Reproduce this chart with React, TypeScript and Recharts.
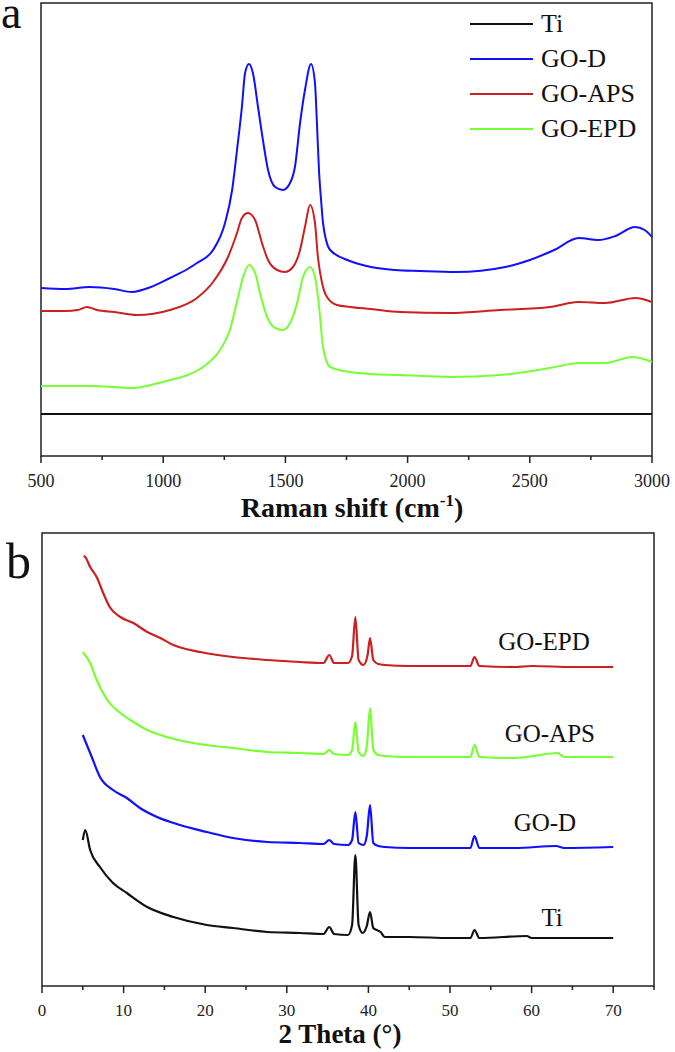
import React from 'react';
import { LineChart, Line, XAxis, YAxis, Label, Legend, ReferenceDot, ReferenceArea } from 'recharts';

const SERIF = '"Liberation Serif", "Times New Roman", Times, serif';
const INK = '#222';

// ---- panel a: Raman spectra (intensity in arbitrary units, stacked offsets) ----
const ramanTicks = [500, 750, 1000, 1250, 1500, 1750, 2000, 2250, 2500, 2750, 3000];
const ramanLabelled = [500, 1000, 1500, 2000, 2500, 3000];

const tiRamanShift = [500, 3000];
const tiRaman = [42, 42];

const godRamanShift = [500, 600, 700, 800, 872, 950, 1028, 1100, 1138, 1204, 1253, 1282, 1302, 1322, 1335, 1351, 1367, 1388, 1408, 1429, 1458, 1490, 1519, 1539, 1560, 1580, 1605, 1621, 1629, 1638, 1646, 1654, 1683, 1764, 1850, 1950, 2050, 2200, 2400, 2500, 2600, 2700, 2780, 2850, 2930, 2970, 3000];
const godRaman = [168, 167, 169, 167, 164, 169, 178, 187, 193, 206, 233, 266, 306, 349, 383, 392, 383, 349, 316, 286, 269, 266, 273, 289, 333, 366, 392, 373, 333, 283, 256, 233, 206, 195, 189, 186, 185, 184, 189, 196, 206, 218, 216, 220, 229, 226, 219];

const goApsRamanShift = [500, 600, 650, 688, 730, 800, 892, 1028, 1138, 1204, 1265, 1302, 1322, 1347, 1376, 1404, 1429, 1466, 1498, 1531, 1560, 1580, 1601, 1621, 1633, 1650, 1670, 1711, 1764, 1850, 1969, 2173, 2378, 2582, 2698, 2808, 2933, 3000];
const goApsRaman = [145, 145, 146, 149, 146, 144, 141, 146, 158, 174, 199, 223, 238, 243, 236, 213, 196, 186, 184, 189, 206, 229, 251, 233, 199, 173, 159, 151, 149, 147, 144, 143, 146, 149, 154, 153, 158, 154];

const goEpdRamanShift = [500, 600, 700, 800, 872, 950, 1028, 1100, 1163, 1232, 1273, 1306, 1327, 1351, 1376, 1396, 1425, 1458, 1490, 1519, 1548, 1572, 1601, 1621, 1638, 1654, 1683, 1764, 1850, 1969, 2173, 2378, 2582, 2705, 2807, 2921, 3000];
const goEpdRaman = [70, 70, 70, 69, 68, 71, 76, 81, 89, 106, 126, 159, 179, 191, 183, 163, 139, 128, 126, 133, 153, 179, 189, 179, 149, 109, 89, 84, 82, 81, 79, 81, 88, 93, 93, 99, 94];

// ---- panel b: XRD patterns ----
const xrdTicks = [0, 5, 10, 15, 20, 25, 30, 35, 40, 45, 50, 55, 60, 65, 70, 75];
const xrdLabelled = [0, 10, 20, 30, 40, 50, 60, 70];

const tiTheta = [5.0, 5.3, 5.9, 7.1, 8.7, 10.4, 12.9, 16.1, 20.2, 23.4, 27.6, 31.6, 34.5, 35.2, 35.8, 37.5, 38.0, 38.4, 38.8, 39.3, 39.8, 40.2, 40.6, 41.0, 41.5, 42, 45, 50, 52.5, 53, 53.6, 59.4, 60, 70];
const tiXrd = [146, 156, 136, 119, 103, 93, 79, 69, 61, 58, 54, 53, 52, 59, 52, 51, 61, 131, 61, 53, 60, 74, 58, 56, 54, 49, 49, 48, 48, 56, 48, 50, 48, 48];

const godTheta = [5.0, 5.5, 6.0, 7.1, 8.7, 10.4, 12.0, 14.1, 16.9, 20.2, 23.4, 27.6, 31.6, 34.5, 35.2, 35.8, 37.5, 38.0, 38.4, 38.8, 39.4, 39.8, 40.2, 40.6, 41.2, 42, 45, 50, 52.5, 53, 53.6, 58, 63, 64, 70];
const godXrd = [251, 241, 231, 209, 196, 188, 178, 169, 161, 154, 148, 144, 143, 142, 146, 142, 141, 146, 174, 143, 141, 150, 181, 143, 140, 139, 138, 138, 138, 150, 138, 138, 140, 138, 139];

const goApsTheta = [5.0, 5.9, 6.7, 8.0, 9.6, 11.2, 12.9, 15.3, 17.8, 20.2, 23.4, 27.6, 31.6, 34.5, 35.2, 35.8, 37.5, 38.0, 38.4, 38.8, 39.4, 39.8, 40.2, 40.6, 41.2, 42, 45, 50, 52.5, 53, 53.6, 58, 63.2, 64, 70];
const goApsXrd = [334, 323, 306, 286, 273, 264, 256, 249, 244, 241, 238, 234, 233, 232, 236, 232, 231, 236, 264, 234, 230, 240, 278, 236, 231, 230, 229, 229, 229, 241, 229, 228, 233, 229, 229];

const goEpdTheta = [5.1, 5.3, 5.9, 6.7, 7.5, 8.3, 9.6, 11.2, 12.9, 14.5, 16.1, 19.4, 23.4, 27.6, 31.6, 34.5, 35.2, 35.8, 37.5, 38.0, 38.4, 38.8, 39.4, 39.9, 40.2, 40.6, 41.2, 42, 45, 50, 52.5, 53, 53.6, 58, 60, 65, 70];
const goEpdXrd = [430, 429, 419, 409, 393, 379, 369, 363, 354, 348, 341, 334, 329, 326, 324, 323, 331, 323, 323, 330, 369, 326, 321, 331, 348, 326, 322, 321, 320, 320, 320, 329, 320, 319, 320, 319, 319];

// series name tags placed beside the XRD traces
const xrdTagNames = ['GO-EPD', 'GO-APS', 'GO-D', 'Ti'];
const xrdTagTheta = [55.9, 56.7, 57.8, 61.2];
const xrdTagLevel = [336, 244, 155, 60];

const pairs = (xs: number[], ys: number[]) => xs.map((x, i) => ({ x, y: ys[i] }));

const BLACK = '#111111';
const BLUE = '#1010ff';
const RED = '#cc1f1f';
const GREEN = '#77ff33';

const ramanSeries = [
  { name: 'Ti', color: BLACK, data: pairs(tiRamanShift, tiRaman) },
  { name: 'GO-D', color: BLUE, data: pairs(godRamanShift, godRaman) },
  { name: 'GO-APS', color: RED, data: pairs(goApsRamanShift, goApsRaman) },
  { name: 'GO-EPD', color: GREEN, data: pairs(goEpdRamanShift, goEpdRaman) },
];

// in panel b the paper swaps the colours of GO-APS and GO-EPD
const xrdSeries = [
  { name: 'Ti', color: BLACK, data: pairs(tiTheta, tiXrd) },
  { name: 'GO-D', color: BLUE, data: pairs(godTheta, godXrd) },
  { name: 'GO-APS', color: GREEN, data: pairs(goApsTheta, goApsXrd) },
  { name: 'GO-EPD', color: RED, data: pairs(goEpdTheta, goEpdXrd) },
];

const AxisTick = ({ x, y, payload, labelled, fontSize, baseline }: any) => {
  const major = labelled.includes(payload.value);
  return (
    <g>
      <line x1={x} x2={x} y1={y} y2={y + (major ? 7 : 4)} stroke={INK} strokeWidth={1.5} />
      {major && (
        <text x={x} y={y + baseline} textAnchor="middle" fontFamily={SERIF} fontSize={fontSize} fill={INK}>
          {payload.value}
        </text>
      )}
    </g>
  );
};

const legendOrder = ramanSeries.map((s) => s.name);

const RamanLegend = ({ payload }: any) => {
  const items = [...(payload || [])].sort((a: any, b: any) => legendOrder.indexOf(a.value) - legendOrder.indexOf(b.value));
  return (
    <div style={{ fontFamily: SERIF, fontSize: 26, color: '#111' }}>
      {items.map((p: any) => (
        <div key={p.value} style={{ display: 'flex', alignItems: 'center', height: 35 }}>
          <span style={{ display: 'inline-block', width: 63, height: 2.5, background: p.color, marginRight: 8 }} />
          <span>{p.value}</span>
        </div>
      ))}
    </div>
  );
};

const yTitle = (cx: number, cy: number) => () => (
  <text
    x={cx}
    y={cy}
    transform={`rotate(-90 ${cx} ${cy})`}
    textAnchor="middle"
    fontFamily={SERIF}
    fontSize={27}
    fontWeight="bold"
    fill="#111"
  >
    Intensity (a.u.)
  </text>
);

export default function App() {
  return (
    <div style={{ position: 'absolute', left: 0, top: 0, width: 675, height: 1052, background: '#fff' }}>
      <div style={{ position: 'absolute', left: 0, top: 0 }}>
        <LineChart width={675} height={530} margin={{ top: 3, right: 23, bottom: 4, left: 41 }}>
          <XAxis
            type="number"
            dataKey="x"
            domain={[500, 3000]}
            ticks={ramanTicks}
            interval={0}
            height={70}
            tickSize={0}
            tickMargin={0}
            tickLine={false}
            axisLine={false}
            tick={(p: any) => <AxisTick {...p} labelled={ramanLabelled} fontSize={18} baseline={31} />}
          >
            <Label
              content={() => (
                <text x={352} y={517} textAnchor="middle" fontFamily={SERIF} fontSize={28} fontWeight="bold" fill="#111">
                  Raman shift (cm
                  <tspan dy={-11} fontSize={17}>-1</tspan>
                  <tspan dy={11}>)</tspan>
                </text>
              )}
            />
          </XAxis>
          <YAxis type="number" domain={[0, 453]} width={0} tick={false} tickLine={false} axisLine={false}>
            <Label content={yTitle(27, 222)} />
          </YAxis>
          <ReferenceArea x1={500} x2={3000} y1={0} y2={453} fill="none" stroke={INK} strokeWidth={1.5} ifOverflow="visible" />
          <Legend
            layout="vertical"
            align="center"
            verticalAlign="middle"
            wrapperStyle={{ left: 470, top: 6.5, width: 'auto' }}
            content={<RamanLegend />}
          />
          {ramanSeries.map((s) => (
            <Line
              key={s.name}
              data={s.data}
              dataKey="y"
              name={s.name}
              type="monotone"
              stroke={s.color}
              strokeWidth={2}
              dot={false}
              activeDot={false}
              isAnimationActive={false}
            />
          ))}
        </LineChart>
        <div style={{ position: 'absolute', left: 1, top: -10.5, fontFamily: SERIF, fontSize: 46, lineHeight: '46px', color: '#111' }}>a</div>
      </div>

      <div style={{ position: 'absolute', left: 0, top: 530 }}>
        <LineChart width={675} height={522} margin={{ top: 3, right: 21, bottom: 4, left: 42 }}>
          <XAxis
            type="number"
            dataKey="x"
            domain={[0, 75]}
            ticks={xrdTicks}
            interval={0}
            height={62}
            tickSize={0}
            tickMargin={0}
            tickLine={false}
            axisLine={false}
            tick={(p: any) => <AxisTick {...p} labelled={xrdLabelled} fontSize={17} baseline={30} />}
          >
            <Label
              content={() => (
                <text x={340} y={513} textAnchor="middle" fontFamily={SERIF} fontSize={27} fontWeight="bold" fill="#111">
                  2 Theta (°)
                </text>
              )}
            />
          </XAxis>
          <YAxis type="number" domain={[0, 453]} width={0} tick={false} tickLine={false} axisLine={false}>
            <Label content={yTitle(27, 235)} />
          </YAxis>
          <ReferenceArea x1={0} x2={75} y1={0} y2={453} fill="none" stroke={INK} strokeWidth={1.5} ifOverflow="visible" />
          {xrdSeries.map((s) => (
            <Line
              key={s.name}
              data={s.data}
              dataKey="y"
              name={s.name}
              type="monotone"
              stroke={s.color}
              strokeWidth={2.2}
              dot={false}
              activeDot={false}
              isAnimationActive={false}
            />
          ))}
          {xrdTagNames.map((name, i) => (
            <ReferenceDot
              key={name}
              x={xrdTagTheta[i]}
              y={xrdTagLevel[i]}
              r={0}
              fill="none"
              stroke="none"
              label={(p: any) => (
                <text x={p.viewBox.x} y={p.viewBox.y} textAnchor="start" fontFamily={SERIF} fontSize={25} fill="#111">
                  {name}
                </text>
              )}
            />
          ))}
        </LineChart>
        <div style={{ position: 'absolute', left: 6, top: 6, fontFamily: SERIF, fontSize: 50, lineHeight: '50px', color: '#111' }}>b</div>
      </div>
    </div>
  );
}
